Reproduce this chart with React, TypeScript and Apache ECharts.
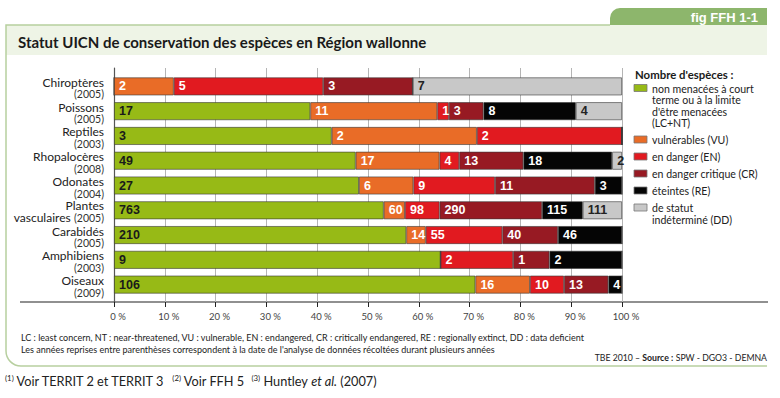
import React, { useEffect, useRef } from "react";
import * as echarts from "echarts";

const categories = ["Chiroptères", "Poissons", "Reptiles", "Rhopalocères", "Odonates", "Plantes vasculaires", "Carabidés", "Amphibiens", "Oiseaux"];
const years = ["2005", "2005", "2003", "2008", "2004", "2005", "2005", "2003", "2009"];

const seriesNames = [
  "non menacées à court\nterme ou à la limite\nd'être menacées\n(LC+NT)",
  "vulnérables (VU)",
  "en danger (EN)",
  "en danger critique (CR)",
  "éteintes (RE)",
  "de statut\nindéterminé (DD)",
];
const lcnt = [0, 17, 3, 49, 27, 763, 210, 9, 106];
const vu = [2, 11, 2, 17, 6, 60, 14, 0, 16];
const en = [5, 1, 2, 4, 9, 98, 55, 2, 10];
const cr = [3, 3, 0, 13, 11, 290, 40, 1, 13];
const re = [0, 8, 0, 18, 3, 115, 46, 2, 4];
const dd = [7, 4, 0, 2, 0, 111, 0, 0, 0];

const colors = ["#97ba16", "#e96c27", "#e11a20", "#971a23", "#050505", "#c8c8c8"];
const labelColors = ["#1a1a1a", "#ffffff", "#ffffff", "#ffffff", "#ffffff", "#222222"];

const title = "Statut UICN de conservation des espèces en Région wallonne";
const figTag = "fig FFH 1-1";
const legendTitle = "Nombre d'espèces :";
const note1 = "LC : least concern, NT : near-threatened, VU : vulnerable, EN : endangered, CR : critically endangered, RE : regionally extinct, DD : data deficient";
const note2 = "Les années reprises entre parenthèses correspondent à la date de l'analyse de données récoltées durant plusieurs années";

export default function App() {
  const ref = useRef<HTMLDivElement>(null);
  useEffect(() => {
    if (!ref.current) return;
    const chart = echarts.init(ref.current, undefined, { renderer: "svg" });
    const all = [lcnt, vu, en, cr, re, dd];
    const totals = categories.map((_, i) => all.reduce((s, arr) => s + arr[i], 0));

    const series = all.map((arr, k) => ({
      name: seriesNames[k],
      type: "bar",
      stack: "total",
      xAxisIndex: 1,
      yAxisIndex: 1,
      barWidth: 18,
      data: arr.map((v, i) => ({ value: (v / totals[i]) * 100, count: v })),
      itemStyle: { color: colors[k], borderColor: "rgba(55,55,55,0.75)", borderWidth: 0.8 },
      label: {
        show: true,
        position: "insideLeft",
        distance: 5,
        color: labelColors[k],
        fontFamily: "Liberation Sans, Arial, sans-serif",
        fontSize: 12.5,
        fontWeight: "bold",
        formatter: (p: any) => (p.data.count > 0 ? String(p.data.count) : ""),
      },
    }));

    const legendEls: any[] = [];
    let ly = 88;
    const lh = 11.5;
    seriesNames.forEach((n, k) => {
      const lines = n.split("\n").length;
      legendEls.push({
        type: "rect",
        shape: { x: 634, y: ly - 3.5, width: 13, height: 7 },
        style: { fill: colors[k], stroke: "#777", lineWidth: 0.8 },
      });
      legendEls.push({
        type: "text",
        x: 652,
        y: ly - lh / 2,
        scaleX: 0.92,
        style: {
          text: n,
          x: 0,
          y: 0,
          font: "11.5px Lato, sans-serif",
          lineHeight: lh,
          fill: "#222",
          verticalAlign: "top",
        },
      });
      ly += lines * lh + 5.5;
    });

    const frameColor = "#b7cf9f";

    chart.setOption({
      animation: false,
      backgroundColor: "#ffffff",
      grid: [
        { left: 114, right: 158, top: 68, height: 234 },
        { left: 114, right: 158, top: 74, height: 223 },
      ],
      xAxis: [
        {
          gridIndex: 0,
          type: "value",
          min: 0,
          max: 100,
          interval: 10,
          axisLine: { show: false },
          axisTick: { show: true, length: 5, lineStyle: { color: "#222", width: 1 } },
          axisLabel: {
            formatter: "{value} %",
            fontFamily: "Lato, sans-serif",
            fontSize: 9.5,
            color: "#444",
            margin: 9,
            padding: [0, 0, 0, 8],
          },
          splitLine: { show: true, lineStyle: { color: "#b5b5b5", width: 1 } },
        },
        {
          gridIndex: 1,
          type: "value",
          min: 0,
          max: 100,
          interval: 10,
          show: false,
        },
      ],
      yAxis: [
        {
          gridIndex: 0,
          type: "value",
          min: 0,
          max: 1,
          axisLine: { show: true, lineStyle: { color: "#555", width: 1.2 } },
          axisTick: { show: false },
          axisLabel: { show: false },
          splitLine: { show: false },
        },
        {
          gridIndex: 1,
          type: "category",
          inverse: true,
          data: categories,
          axisLine: { show: false },
          axisTick: { show: false },
          axisLabel: {
            margin: 10,
            padding: [3, 0, 0, 0],
            formatter: (v: string, i: number) => {
              const parts = v.split(" ");
              if (parts.length > 1) {
                return `{m|${parts[0]}}\n{m|${parts.slice(1).join(" ")}} {y|(${years[i]})}`;
              }
              return `{n|${v}}\n{y|(${years[i]})}`;
            },
            rich: {
              n: { fontFamily: "Lato, sans-serif", fontSize: 12, color: "#222", lineHeight: 13 },
              m: { fontFamily: "Lato, sans-serif", fontSize: 12, color: "#222", lineHeight: 12 },
              y: { fontFamily: "Lato, sans-serif", fontSize: 10.5, color: "#333", lineHeight: 11 },
            },
          },
        },
      ],
      series,
      graphic: [
        {
          type: "rect",
          shape: { x: 610, y: 8, width: 157, height: 17.5, r: [10, 0, 0, 0] },
          style: { fill: "#8db66c" },
        },
        {
          type: "text",
          style: {
            text: figTag,
            x: 758,
            y: 17,
            align: "right",
            verticalAlign: "middle",
            font: "bold 13px Liberation Sans, Arial, sans-serif",
            fill: "#ffffff",
          },
        },
        {
          type: "rect",
          shape: { x: 6, y: 25, width: 761, height: 30 },
          style: { fill: "#eef4e6" },
        },
        {
          type: "polyline",
          shape: { points: [[610, 25], [6, 25], [6, 351]] },
          style: { stroke: frameColor, lineWidth: 1.5, fill: null },
        },
        {
          type: "arc",
          shape: { cx: 21, cy: 351, r: 15, startAngle: Math.PI / 2, endAngle: Math.PI },
          style: { stroke: frameColor, lineWidth: 1.5, fill: null },
        },
        {
          type: "line",
          shape: { x1: 21, y1: 366, x2: 767, y2: 366 },
          style: { stroke: frameColor, lineWidth: 1.5 },
        },
        {
          type: "text",
          style: {
            text: title,
            x: 18,
            y: 41.5,
            verticalAlign: "middle",
            font: "bold 15px Lato, sans-serif",
            fill: "#1a1a1a",
          },
        },
        {
          type: "line",
          shape: { x1: 20, y1: 302, x2: 768, y2: 302 },
          style: { stroke: "#222", lineWidth: 1.2 },
        },
        {
          type: "text",
          x: 635,
          y: 74,
          scaleX: 0.95,
          style: {
            text: legendTitle,
            x: 0,
            y: 0,
            verticalAlign: "middle",
            font: "bold 12px Lato, sans-serif",
            fill: "#1a1a1a",
          },
        },
        ...legendEls,
        {
          type: "text",
          x: 21,
          y: 337,
          scaleX: 0.9,
          style: {
            text: note1,
            x: 0,
            y: 0,
            verticalAlign: "middle",
            font: "10px Lato, sans-serif",
            fill: "#222",
          },
        },
        {
          type: "text",
          x: 21,
          y: 349,
          scaleX: 0.9,
          style: {
            text: note2,
            x: 0,
            y: 0,
            verticalAlign: "middle",
            font: "10px Lato, sans-serif",
            fill: "#222",
          },
        },
        {
          type: "text",
          x: 767,
          y: 357,
          scaleX: 0.87,
          style: {
            text: "{r|TBE 2010 – }{b|Source :}{r| SPW - DGO3 - DEMNA}",
            x: 0,
            y: 0,
            align: "right",
            verticalAlign: "middle",
            rich: {
              r: { fontFamily: "Lato, sans-serif", fontSize: 10, fill: "#222" },
              b: { fontFamily: "Lato, sans-serif", fontSize: 10, fontWeight: "bold", fill: "#222" },
            },
          },
        },
        {
          type: "text",
          x: 5,
          y: 381,
          scaleX: 0.98,
          style: {
            text: "{s|(1)}{t| Voir TERRIT 2 et TERRIT 3  }{s|(2)}{t| Voir FFH 5  }{s|(3)}{t| Huntley }{i|et al.}{t| (2007)}",
            x: 0,
            y: 0,
            verticalAlign: "middle",
            rich: {
              s: { fontFamily: "Lato, sans-serif", fontSize: 8, fill: "#222", verticalAlign: "top", lineHeight: 14 },
              t: { fontFamily: "Lato, sans-serif", fontSize: 13, fill: "#222", lineHeight: 14 },
              i: { fontFamily: "Lato, sans-serif", fontSize: 13, fontStyle: "italic", fill: "#222", lineHeight: 14 },
            },
          },
        },
      ],
    });
    return () => chart.dispose();
  }, []);
  return (
    <div
      ref={ref}
      style={{ position: "absolute", left: 0, top: 0, width: 780, height: 398, background: "#fff" }}
    />
  );
}
